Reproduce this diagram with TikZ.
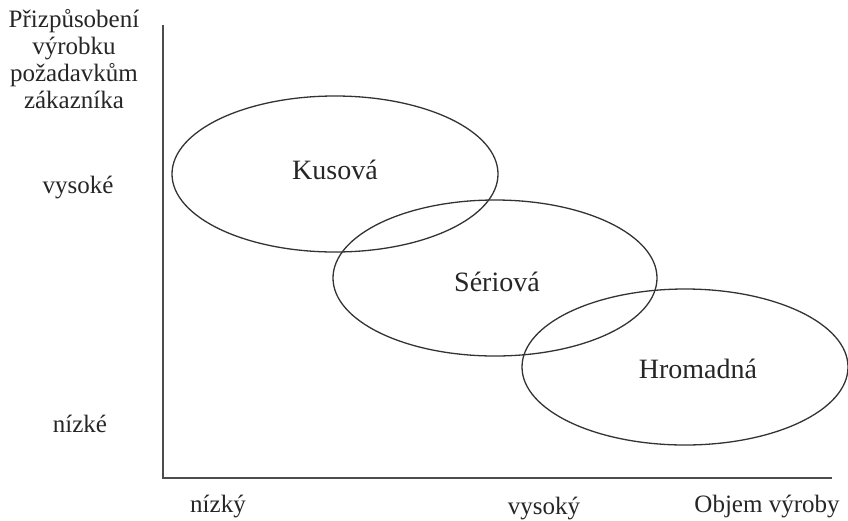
\documentclass[tikz,border=0pt]{standalone}
\usepackage{fontspec}
\setmainfont{Liberation Serif}
\begin{document}
\begin{tikzpicture}[x=1pt,y=-1pt,
  lbl/.style={font=\fontsize{25}{28}\selectfont, text=black!85, inner sep=0pt},
  zlbl/.style={font=\fontsize{28}{32}\selectfont, text=black!85, inner sep=0pt},
  axis/.style={line width=1.6pt, draw=black!70},
  zone/.style={line width=1.3pt, draw=black!80}]
\useasboundingbox (0,0) rectangle (848,520);
% axes
\coordinate (top) at (163,25);
\coordinate (origin) at (163,478);
\coordinate (right) at (832,478);
\draw[axis] (top) -- (origin) -- (right);
% production types
\draw[zone] (335,174) ellipse (163 and 78);
\draw[zone] (495,278) ellipse (162 and 78);
\draw[zone] (685,367) ellipse (163 and 78);
\node[zlbl] (kus) at (335,170) {Kusová};
\node[zlbl] (ser) at (497,282) {Sériová};
\node[zlbl] (hro) at (698,369) {Hromadná};
% y-axis labels
\node[lbl, align=center] (ytitle) at (74,59) {Přizpůsobení\\[-1pt]výrobku\\[-1pt]požadavkům\\[-1pt]zákazníka};
\node[lbl] (yhi) at (78,188) {vysoké};
\node[lbl] (ylo) at (80,424) {nízké};
% x-axis labels
\node[lbl] (xlo) at (218,506) {nízký};
\node[lbl] (xhi) at (544,508) {vysoký};
\node[lbl] (xtitle) at (767,506) {Objem výroby};
\end{tikzpicture}
\end{document}
